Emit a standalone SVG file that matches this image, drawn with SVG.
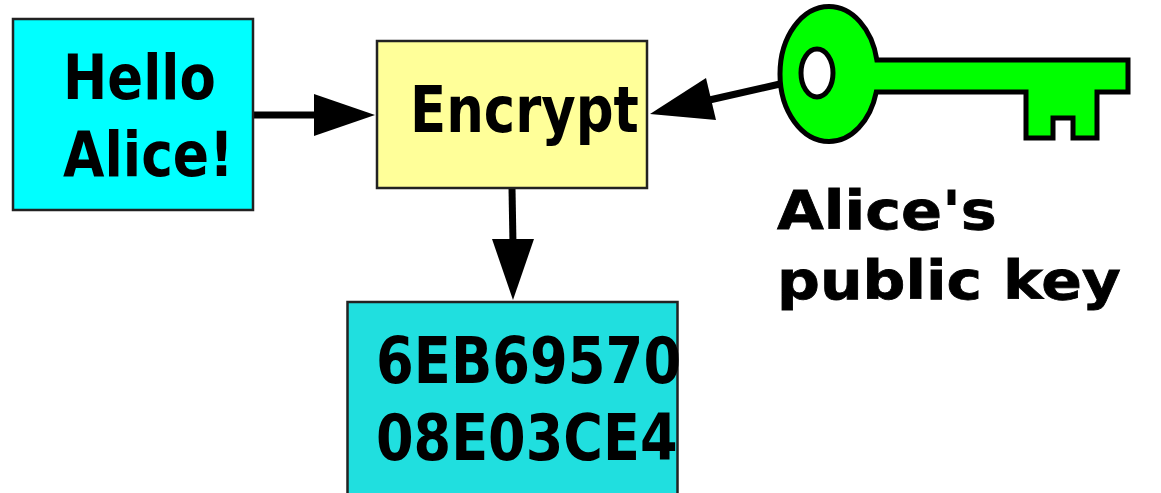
<svg xmlns="http://www.w3.org/2000/svg" width="1161" height="493" viewBox="0 0 1161 493">
<style>
.box{stroke:#222;stroke-width:2.5}
.cond{font-family:"DejaVu Sans",sans-serif;font-weight:bold;font-size:63px;fill:#000}
.wide{font-family:"DejaVu Sans",sans-serif;font-weight:bold;font-size:54px;fill:#000;stroke:#000;stroke-width:.8}
.conn{stroke:#000;stroke-width:7;fill:none}
.head{fill:#000}
</style>
<rect width="1161" height="493" fill="#fff"/>
<g id="connectors">
<line class="conn" x1="253" y1="115" x2="320" y2="115"/>
<polygon class="head" points="375,115 314,94 314,136"/>
<line class="conn" x1="780" y1="84" x2="705" y2="101"/>
<polygon class="head" points="650,114 706,78 716,120"/>
<line class="conn" x1="512" y1="188" x2="513" y2="245"/>
<polygon class="head" points="513,300 492,239 534,239"/>
</g>
<g id="hello">
<rect class="box" x="13" y="19" width="240" height="191" fill="#00ffff"/>
<text class="cond" transform="translate(63 99) scale(.84 1)">Hello</text>
<text class="cond" transform="translate(63 176) scale(.85 1)">Alice!</text>
</g>
<g id="encrypt">
<rect class="box" x="377" y="41" width="270" height="147" fill="#ffff99"/>
<text class="cond" transform="translate(410 132) scale(.84 1.03)">Encrypt</text>
</g>
<g id="ciphertext">
<rect class="box" x="347.5" y="302" width="330" height="195" fill="#20dfdf"/>
<text class="cond" transform="translate(376 383) scale(.862 1.03)">6EB69570</text>
<text class="cond" transform="translate(376 460) scale(.858 1.03)">08E03CE4</text>
</g>
<g id="key">
<path d="M876.9 60H1128V92H1097V138H1073V118H1053V138H1026V92H876.3A49 67.5 0 0 1 829 141.5A49 67.5 0 0 1 780 74A49 67.5 0 0 1 829 6.5A49 67.5 0 0 1 876.9 60Z" fill="#00ff00" stroke="#000" stroke-width="5"/>
<ellipse cx="817" cy="73" rx="16" ry="24" fill="#fff" stroke="#000" stroke-width="5"/>
</g>
<g id="key-label">
<text class="wide" transform="translate(777 229) scale(1.12 1)">Alice's</text>
<text class="wide" transform="translate(777 299) scale(1.11 1)">public key</text>
</g>
</svg>
